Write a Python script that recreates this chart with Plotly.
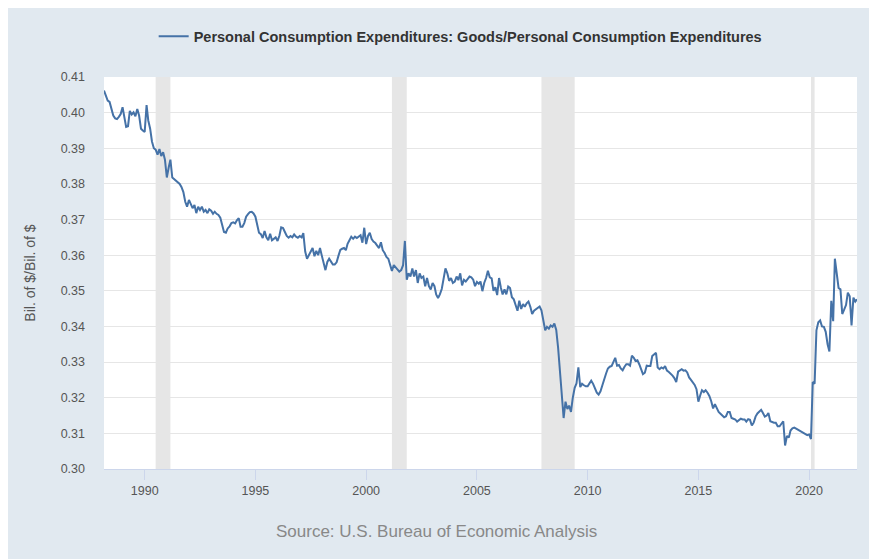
import pandas as pd
import plotly.graph_objects as go

# ---- Data: Personal Consumption Expenditures: Goods / Personal Consumption Expenditures (monthly, from 1988-03)
ratio_1988_1992 = [
    0.4062, 0.4045, 0.4034, 0.4030, 0.4012, 0.3992, 0.3984, 0.3982, 0.3988, 0.3996,
    0.4015, 0.3982, 0.3960, 0.3962, 0.4005, 0.3995, 0.4001, 0.3990, 0.4010, 0.3992, 0.3955, 0.3950,
    0.3946, 0.4021, 0.3978, 0.3955, 0.3919, 0.3900, 0.3896, 0.3882, 0.3898, 0.3878, 0.3889, 0.3868,
    0.3818, 0.3846, 0.3868, 0.3818, 0.3814, 0.3808, 0.3805, 0.3800, 0.3791, 0.3777, 0.3750, 0.3736,
    0.3755, 0.3740, 0.3732, 0.3741, 0.3718, 0.3736, 0.3727, 0.3736, 0.3722, 0.3727, 0.3718, 0.3729,
]
ratio_1993_1999 = [
    0.3725, 0.3716, 0.3722, 0.3716, 0.3713, 0.3705, 0.3685, 0.3665, 0.3663, 0.3675, 0.3681, 0.3690,
    0.3692, 0.3689, 0.3698, 0.3704, 0.3680, 0.3680, 0.3690, 0.3708, 0.3715, 0.3721, 0.3722, 0.3717,
    0.3708, 0.3680, 0.3663, 0.3659, 0.3648, 0.3668, 0.3650, 0.3642, 0.3660, 0.3642, 0.3645, 0.3650,
    0.3640, 0.3655, 0.3678, 0.3676, 0.3665, 0.3654, 0.3649, 0.3654, 0.3650, 0.3658, 0.3652, 0.3649,
    0.3654, 0.3650, 0.3662, 0.3610, 0.3590, 0.3600, 0.3612, 0.3620, 0.3597, 0.3612, 0.3600, 0.3620,
    0.3598, 0.3575, 0.3558, 0.3581, 0.3590, 0.3582, 0.3574, 0.3574, 0.3580, 0.3598, 0.3615, 0.3618,
    0.3620, 0.3614, 0.3632, 0.3642, 0.3652, 0.3646, 0.3652, 0.3648, 0.3652, 0.3656, 0.3635, 0.3677,
]
ratio_2000_2007 = [
    0.3631, 0.3654, 0.3663, 0.3645, 0.3638, 0.3634, 0.3627, 0.3620, 0.3636, 0.3614, 0.3606, 0.3595,
    0.3590, 0.3570, 0.3556, 0.3572, 0.3565, 0.3560, 0.3554, 0.3558, 0.3572, 0.3640, 0.3531, 0.3549,
    0.3540, 0.3563, 0.3540, 0.3558, 0.3522, 0.3549, 0.3536, 0.3540, 0.3513, 0.3536, 0.3513, 0.3504,
    0.3522, 0.3513, 0.3490, 0.3480, 0.3490, 0.3505, 0.3530, 0.3563, 0.3549, 0.3528, 0.3536, 0.3522,
    0.3526, 0.3540, 0.3530, 0.3549, 0.3515, 0.3531, 0.3526, 0.3534, 0.3540, 0.3538, 0.3531, 0.3513,
    0.3525, 0.3520, 0.3526, 0.3499, 0.3522, 0.3536, 0.3556, 0.3538, 0.3535, 0.3500, 0.3510, 0.3488,
    0.3536, 0.3508, 0.3490, 0.3504, 0.3490, 0.3512, 0.3508, 0.3482, 0.3476, 0.3460, 0.3444, 0.3472,
    0.3449, 0.3463, 0.3455, 0.3465, 0.3470, 0.3455, 0.3435, 0.3444, 0.3449, 0.3453, 0.3456, 0.3445,
]
ratio_2008_2015 = [
    0.3421, 0.3389, 0.3399, 0.3394, 0.3403, 0.3399, 0.3408, 0.3390, 0.3340, 0.3270, 0.3200, 0.3143,
    0.3189, 0.3168, 0.3178, 0.3160, 0.3200, 0.3228, 0.3240, 0.3285, 0.3230, 0.3239, 0.3235, 0.3232,
    0.3232, 0.3242, 0.3248, 0.3239, 0.3228, 0.3214, 0.3209, 0.3218, 0.3235, 0.3254, 0.3268, 0.3282,
    0.3287, 0.3289, 0.3300, 0.3312, 0.3290, 0.3292, 0.3282, 0.3277, 0.3287, 0.3294, 0.3294, 0.3290,
    0.3318, 0.3312, 0.3303, 0.3305, 0.3294, 0.3278, 0.3266, 0.3270, 0.3290, 0.3289, 0.3289, 0.3317,
    0.3321, 0.3326, 0.3285, 0.3280, 0.3285, 0.3282, 0.3289, 0.3276, 0.3272, 0.3268, 0.3262, 0.3255,
    0.3244, 0.3273, 0.3277, 0.3280, 0.3276, 0.3277, 0.3271, 0.3257, 0.3250, 0.3242, 0.3236, 0.3224,
    0.3189, 0.3207, 0.3221, 0.3216, 0.3221, 0.3214, 0.3205, 0.3190, 0.3170, 0.3182, 0.3170, 0.3160,
]
ratio_2016_2022 = [
    0.3155, 0.3150, 0.3145, 0.3148, 0.3160, 0.3160, 0.3143, 0.3141, 0.3139, 0.3133, 0.3138, 0.3141,
    0.3139, 0.3139, 0.3133, 0.3140, 0.3138, 0.3122, 0.3130, 0.3147, 0.3156, 0.3162, 0.3166, 0.3157,
    0.3147, 0.3150, 0.3157, 0.3134, 0.3131, 0.3130, 0.3130, 0.3120, 0.3120, 0.3128, 0.3134, 0.3066,
    0.3093, 0.3088, 0.3108, 0.3114, 0.3116, 0.3113, 0.3110, 0.3107, 0.3104, 0.3102, 0.3098, 0.3095,
    0.3097, 0.3084, 0.3244, 0.3239, 0.3389, 0.3412, 0.3417, 0.3400, 0.3399, 0.3385, 0.3350, 0.3330,
    0.3472, 0.3415, 0.3590, 0.3554, 0.3508, 0.3504, 0.3435, 0.3447, 0.3460, 0.3495, 0.3485, 0.3403,
    0.3481, 0.3470, 0.3476,
]
start_month = "1988-03-01"

recession_starts = ["1990-07-01", "2001-03-01", "2007-12-01", "2020-02-01"]
recession_ends = ["1991-03-01", "2001-11-01", "2009-06-01", "2020-04-01"]

series_name = "Personal Consumption Expenditures: Goods/Personal Consumption Expenditures"
y_title = "Bil. of $/Bil. of $"
source_text = "Source: U.S. Bureau of Economic Analysis"
x_tick_years = [1990, 1995, 2000, 2005, 2010, 2015, 2020]

values = ratio_1988_1992 + ratio_1993_1999 + ratio_2000_2007 + ratio_2008_2015 + ratio_2016_2022
dates = pd.date_range(start=start_month, periods=len(values), freq="MS")

FONT = "Liberation Sans, Arial, sans-serif"
BG = "#e1e9f0"

fig = go.Figure()
fig.add_trace(go.Scatter(
    x=dates, y=values, mode="lines", name=series_name,
    line=dict(color="#4572a7", width=2),
))

shapes = []
for s, e in zip(recession_starts, recession_ends):
    shapes.append(dict(type="rect", xref="x", yref="paper", x0=s, x1=e, y0=0, y1=1,
                       fillcolor="#e6e6e6", line=dict(width=0), layer="between"))

fig.update_layout(
    width=877, height=559,
    margin=dict(l=96, r=28, t=58, b=98),
    paper_bgcolor=BG, plot_bgcolor="white",
    font=dict(family=FONT, color="#555555", size=12),
    showlegend=True,
    legend=dict(orientation="h", x=0.473, xanchor="center", y=1.104, yanchor="middle",
                bgcolor="rgba(0,0,0,0)", font=dict(size=14.5, color="#333333", weight="bold"),
                itemwidth=30),
    shapes=shapes,
    xaxis=dict(
        range=[dates[0], dates[-1]],
        tickvals=[pd.Timestamp(f"{y}-01-01") for y in x_tick_years],
        ticktext=[str(y) for y in x_tick_years],
        showgrid=False, showline=True, linecolor="#ccd6eb", linewidth=1,
        ticks="outside", ticklen=10, tickcolor="#ccd6eb",
        tickfont=dict(size=12.5, color="#555555"), zeroline=False,
    ),
    yaxis=dict(
        range=[0.30, 0.41], dtick=0.01, tick0=0.30, tickformat=".2f",
        showgrid=True, gridcolor="#e6e6e6", gridwidth=1, zeroline=False,
        showline=False, ticks="", ticklabelstandoff=18,
        tickfont=dict(size=12.5, color="#555555"),
        title=dict(text=y_title, font=dict(size=14, color="#555555"), standoff=21),
    ),
    annotations=[dict(text=source_text, xref="paper", yref="paper", x=0.442, y=-0.159,
                      xanchor="center", yanchor="middle", showarrow=False,
                      font=dict(size=17, color="#888888"))],
)

fig.write_html("out.html")
